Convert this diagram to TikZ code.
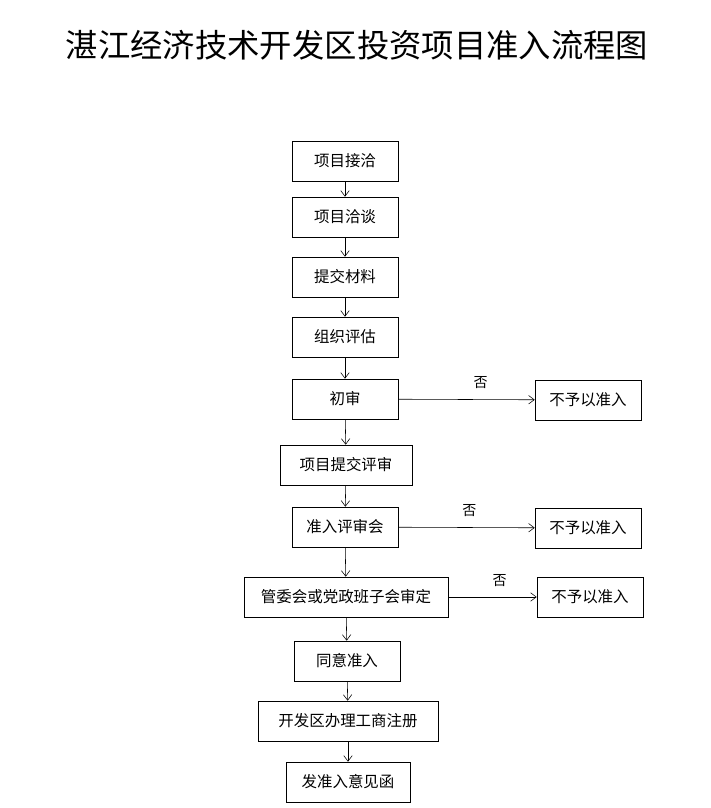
\documentclass[tikz,border=0pt]{standalone}
\usepackage{fontspec}
\setmainfont{Noto Sans CJK SC}
\usetikzlibrary{arrows.meta}
\tikzset{
    stepbox/.style={draw, thin, minimum height=1cm, inner sep=0pt, font=\fontsize{11}{13}\selectfont},
    flow/.style={-{Straight Barb[length=4pt,width=6pt]}, thin}
}

\begin{document}
\begin{tikzpicture}[x=0.025cm, y=0.025cm]
\useasboundingbox (0,0) rectangle (710,-808);
\node (title) at (357,-45) {\fontsize{23}{27}\selectfont 湛江经济技术开发区投资项目准入流程图};
% main column
\foreach \nm/\x/\y/\w/\txt in {
    jieqia/345/161/2.65/项目接洽,
    qiatan/345/217/2.65/项目洽谈,
    cailiao/345/277/2.65/提交材料,
    pinggu/345/337/2.65/组织评估,
    chushen/345/399/2.65/初审,
    tijiao/346/465/3.3/项目提交评审,
    pingshen/345/527/2.65/准入评审会,
    shending/346/597/5.1/管委会或党政班子会审定,
    tongyi/347/661/2.65/同意准入,
    zhuce/348/721/4.5/开发区办理工商注册,
    hanjian/348/782/3.1/发准入意见函
}{
    \node[stepbox, minimum width=\w cm] (\nm) at (\x,-\y) {\txt};
}
% rejections
\foreach \nm/\x/\y in {no1/588/400, no2/588/528, no3/590/597}{
    \node[stepbox, minimum width=2.65cm] (\nm) at (\x,-\y) {不予以准入};
}
\foreach \a/\b in {jieqia/qiatan, qiatan/cailiao, cailiao/pinggu, pinggu/chushen,
    chushen/tijiao, tijiao/pingshen, pingshen/shending, shending/tongyi,
    tongyi/zhuce, zhuce/hanjian}{
    \draw[flow] (\a) -- (\b);
}
\draw[flow] (chushen) -- node[above=4pt, xshift=10pt] (fou1) {否} (no1);
\draw[flow] (pingshen) -- node[above=4pt, xshift=2pt] (fou2) {否} (no2);
\draw[flow] (shending) -- node[above=4pt, xshift=5pt] (fou3) {否} (no3);
\end{tikzpicture}
\end{document}
